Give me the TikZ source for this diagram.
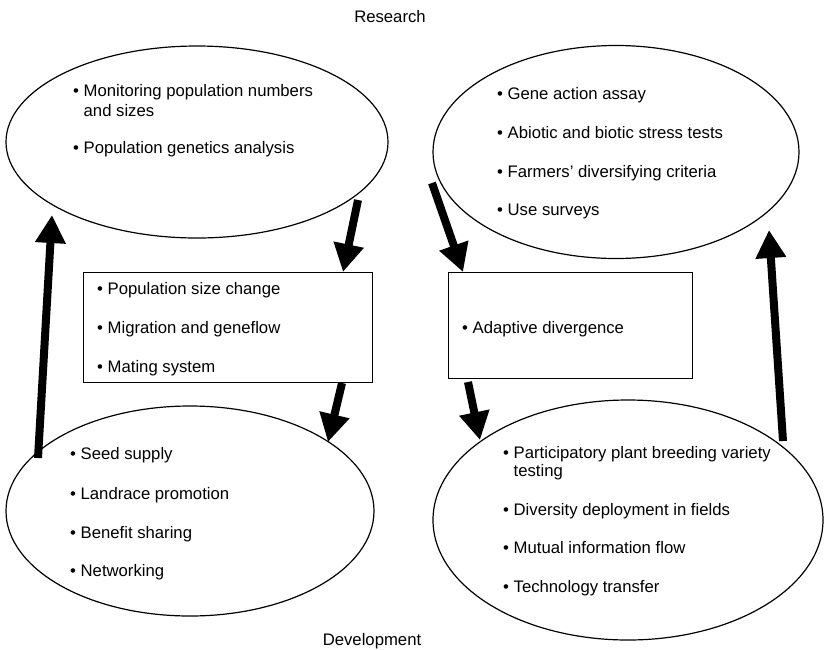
\documentclass[tikz,border=0pt]{standalone}
\usepackage{fontspec}
\setmainfont{Liberation Sans}
\usetikzlibrary{arrows.meta,shapes.geometric}
\tikzset{
  oval/.style={draw, line width=1.2pt, ellipse, inner sep=0pt},
  boxnode/.style={draw, line width=1.2pt, rectangle, inner sep=0pt, anchor=north west},
  item/.style={anchor=base west, inner sep=0pt, align=left, font=\fontsize{16.7}{19}\selectfont},
  lbl/.style={anchor=base, inner sep=0pt, font=\fontsize{16.7}{19}\selectfont},
  bigarrow/.style={line width=8pt, -{Triangle[length=28pt,width=29pt]}}
}
\begin{document}
\begin{tikzpicture}[x=1pt,y=-1pt]
\useasboundingbox (0,0) rectangle (825,649);
% titles
\node[lbl] (research) at (390,22) {Research};
\node[lbl] (development) at (372,645) {Development};
% shapes
\node[oval, minimum width=382pt, minimum height=192pt] (tl) at (197,142) {};
\node[oval, minimum width=366pt, minimum height=213pt] (tr) at (616,152) {};
\node[oval, minimum width=368pt, minimum height=210pt] (bl) at (190,511) {};
\node[oval, minimum width=390pt, minimum height=240pt] (br) at (628,520) {};
\node[boxnode, minimum width=289pt, minimum height=110pt] (lrect) at (83,272) {};
\node[boxnode, minimum width=244pt, minimum height=106pt] (rrect) at (448,272) {};
% texts top-left (base anchor = last line)
\node[item] (tl1) at (73,116) {• Monitoring population numbers\\[1pt]\phantom{• }and sizes};
\node[item] (tl2) at (73,153) {• Population genetics analysis};
% texts top-right
\node[item] (tr1) at (497,99) {• Gene action assay};
\node[item] (tr2) at (497,138) {• Abiotic and biotic stress tests};
\node[item] (tr3) at (497,177) {• Farmers’ diversifying criteria};
\node[item] (tr4) at (497,215) {• Use surveys};
% left rectangle
\node[item] (lr1) at (97,294) {• Population size change};
\node[item] (lr2) at (97,333) {• Migration and geneflow};
\node[item] (lr3) at (97,372) {• Mating system};
% right rectangle
\node[item] (rr1) at (462,333) {• Adaptive divergence};
% bottom-left
\node[item] (bl1) at (70,459) {• Seed supply};
\node[item] (bl2) at (70,499) {• Landrace promotion};
\node[item] (bl3) at (70,538) {• Benefit sharing};
\node[item] (bl4) at (70,576) {• Networking};
% bottom-right
\node[item] (br1) at (503,476) {• Participatory plant breeding variety\\[-1pt]\phantom{• }testing};
\node[item] (br2) at (503,515) {• Diversity deployment in fields};
\node[item] (br3) at (503,553) {• Mutual information flow};
\node[item] (br4) at (503,592) {• Technology transfer};
% arrow end points
\coordinate (a1s) at (358,200);
\coordinate (a1e) at (343,272);
\coordinate (a2s) at (432,183);
\coordinate (a2e) at (463,272);
\coordinate (a3s) at (342,383);
\coordinate (a3e) at (328,442);
\coordinate (a4s) at (468,382);
\coordinate (a4e) at (480,440);
\coordinate (a5s) at (38,458);
\coordinate (a5e) at (52,215);
\coordinate (a6s) at (783,441);
\coordinate (a6e) at (769,230);
% arrows
\draw[bigarrow] (a1s) -- (a1e |- lrect.north);
\draw[bigarrow] (a2s) -- (a2e |- rrect.north);
\draw[bigarrow] (a3s) -- (a3e);
\draw[bigarrow] (a4s) -- (a4e);
\draw[bigarrow] (a5s) -- (a5e);
\draw[bigarrow] (a6s) -- (a6e);
\end{tikzpicture}
\end{document}
